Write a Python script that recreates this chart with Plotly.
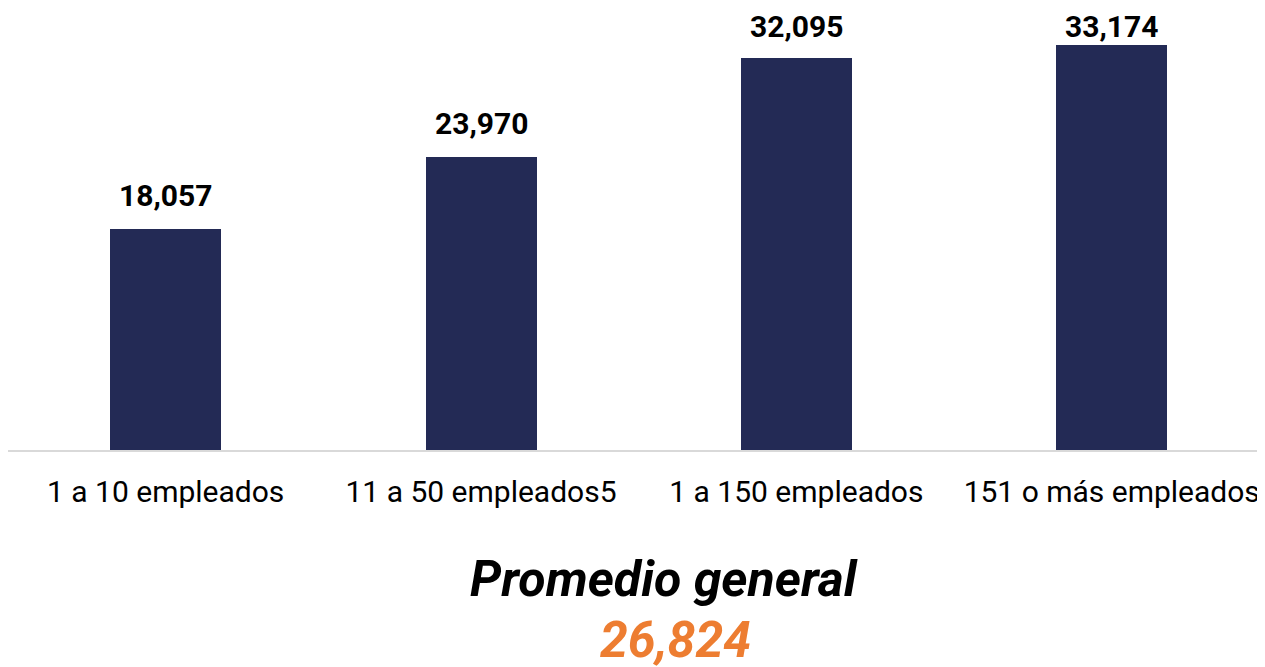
import plotly.graph_objects as go

categories = ["1 a 10 empleados", "11 a 50 empleados5", "1 a 150 empleados", "151 o más empleados"]
values = [18057, 23970, 32095, 33174]
average_label = "Promedio general"
average_value = 26824

NAVY = "#232A55"
ORANGE = "#ED7D31"
FONT = "Roboto"

Y_MAX = 36000
PLOT_TOP = 2
PLOT_H = 440

fig = go.Figure(
    go.Bar(
        x=categories,
        y=values,
        marker=dict(color=NAVY, line=dict(width=0)),
        width=0.352,
        hoverinfo="x+y",
    )
)

# value labels above the bars, kept inside the chart at the top (like Excel does)
for cat, val in zip(categories, values):
    bar_top = PLOT_TOP + PLOT_H * (1 - val / Y_MAX)
    shift = min(14, bar_top - 38)
    fig.add_annotation(
        x=cat, y=val, text=f"{val:,}", showarrow=False,
        yanchor="bottom", yshift=shift,
        font=dict(family=FONT, size=30, color="#000000", weight="bold"),
    )

fig.add_annotation(
    xref="paper", yref="paper", x=0.522, y=0, yshift=-129, yanchor="middle",
    text=average_label, showarrow=False,
    font=dict(family=FONT, size=50, color="#000000", weight="bold", style="italic"),
)
fig.add_annotation(
    xref="paper", yref="paper", x=0.531, y=0, yshift=-190, yanchor="middle",
    text=f"{average_value:,}", showarrow=False,
    font=dict(family=FONT, size=50, color=ORANGE, weight="bold", style="italic"),
)

# page body adds an 8px offset, so the figure is drawn 8px smaller
fig.update_layout(
    width=1257, height=659,
    template="plotly_white",
    plot_bgcolor="white", paper_bgcolor="white",
    margin=dict(l=0, r=0, t=PLOT_TOP, b=659 - PLOT_TOP - PLOT_H),
    showlegend=False,
    bargap=0,
    font=dict(family=FONT, color="#000000"),
)
fig.update_xaxes(
    range=[-0.5, 3.486],
    showline=True, linecolor="#D9D9D9", linewidth=2,
    showgrid=False, ticks="", ticklabelstandoff=14,
    tickfont=dict(family=FONT, size=30, color="#000000"),
)
fig.update_yaxes(range=[0, Y_MAX], visible=False, showgrid=False, zeroline=False)

fig.write_html("out.html")
